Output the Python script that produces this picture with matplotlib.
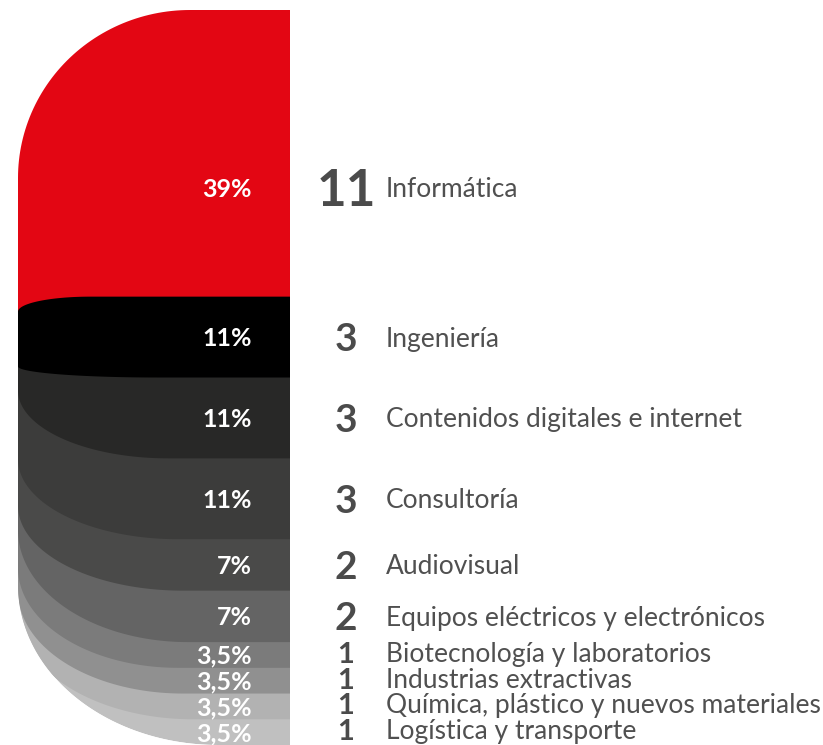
import numpy as np
import matplotlib.pyplot as plt
from matplotlib.path import Path
from matplotlib.patches import PathPatch

plt.rcParams['font.family'] = ['Lato', 'DejaVu Sans']

# ── Data ─────────────────────────────────────────────────────────────────────

sectors = [
    "Informática",
    "Ingeniería",
    "Contenidos digitales e internet",
    "Consultoría",
    "Audiovisual",
    "Equipos eléctricos y electrónicos",
    "Biotecnología y laboratorios",
    "Industrias extractivas",
    "Química, plástico y nuevos materiales",
    "Logística y transporte",
]
counts = [11, 3, 3, 3, 2, 2, 1, 1, 1, 1]
shares = [39, 11, 11, 11, 7, 7, 3.5, 3.5, 3.5, 3.5]
share_labels = ["39%", "11%", "11%", "11%", "7%", "7%", "3,5%", "3,5%", "3,5%", "3,5%"]

# ── Style ────────────────────────────────────────────────────────────────────

colors = ["#e30613", "#000000", "#282827", "#3c3c3b", "#4a4a49",
          "#646464", "#7b7b7b", "#909090", "#b2b2b2", "#c0c0c0"]
# bottom-left corner (rx, ry) in pixels for layers 1..9
bottom_corners = [(139, 11), (150, 68), (160, 80), (165, 85), (170, 112),
                  (160, 100), (165, 102), (175, 108), (200, 160)]
number_sizes = [37, 28, 28, 28, 28, 28, 21, 21, 21, 21]
LABEL_PT = 19

W, H = 823, 745
TOP_PX = 10
PX_PER_UNIT = (H - TOP_PX) / 100.0   # y axis runs 0..100 (share %)
X0, X1 = 18, 290
TOP_CORNER = (172, 168)


def band_path(x0, x1, y0, y1, top=(0, 0), bottom=(0, 0), n=60):
    """Rectangle with elliptical top-left / bottom-left corners (radii in px)."""
    trx, try_ = top[0], top[1] / PX_PER_UNIT
    brx, bry = bottom[0], bottom[1] / PX_PER_UNIT
    verts = [(x1, y0)]
    a = np.linspace(0, np.pi / 2, n)
    if trx > 0:
        cx, cy = x0 + trx, y0 + try_
        verts += list(zip(cx - trx * np.sin(a), cy - try_ * np.cos(a)))
    else:
        verts.append((x0, y0))
    if brx > 0:
        cx, cy = x0 + brx, y1 - bry
        verts += list(zip(cx - brx * np.cos(a), cy + bry * np.sin(a)))
    else:
        verts.append((x0, y1))
    verts.append((x1, y1))
    verts.append((x1, y0))
    codes = [Path.MOVETO] + [Path.LINETO] * (len(verts) - 2) + [Path.CLOSEPOLY]
    return Path(verts, codes)


def pt_to_units(pt):
    return pt * 100 / 72 / PX_PER_UNIT


def cap_offset(pt):
    """Half the cap height of Lato at size pt, in y data units."""
    return 0.7165 * pt_to_units(pt) / 2


fig = plt.figure(figsize=(W / 100, H / 100), dpi=100)
ax = fig.add_axes([0, 0, 1, (H - TOP_PX) / H])
ax.set_xlim(0, W)
ax.set_ylim(100, 0)
ax.axis("off")

edges = np.concatenate([[0], np.cumsum(shares)])
black_mid = (edges[1] + edges[2]) / 2

# outer silhouette used only as a clip
outline = band_path(X0, X1, 0, 100, top=TOP_CORNER, bottom=bottom_corners[-1])

# red layer: top of the silhouette down to the middle of the black band
red = PathPatch(band_path(X0, X1, 0, black_mid, top=TOP_CORNER),
                facecolor=colors[0], edgecolor="none", zorder=1)
ax.add_patch(red)

# grey layers, lowest first so upper ones overlap
for k in range(len(shares) - 1, 1, -1):
    p = PathPatch(band_path(X0, X1, black_mid, edges[k + 1], bottom=bottom_corners[k - 1]),
                  facecolor=colors[k], edgecolor="none", zorder=2 + (10 - k))
    ax.add_patch(p)
    p.set_clip_path(outline, ax.transData)

black = PathPatch(band_path(X0, X1, edges[1], edges[2], top=(72, 15), bottom=bottom_corners[0]),
                  facecolor=colors[1], edgecolor="none", zorder=20)
ax.add_patch(black)
black.set_clip_path(outline, ax.transData)

# band centres
centres = (edges[:-1] + edges[1:]) / 2
centres[0] = edges[0] + 0.62 * shares[0]

# the small bottom rows get nudged up together so the last one's descenders stay inside
last_base = centres[-1] + cap_offset(LABEL_PT)
lift = max(0.0, last_base - (100 - 0.22 * pt_to_units(LABEL_PT)))
text_y = centres.copy()
text_y[6:] -= lift

for k in range(len(shares)):
    ax.text(252, centres[k] + cap_offset(18), share_labels[k], ha="right", va="baseline",
            color="white", fontsize=18, fontweight="bold", zorder=30)
    ax.text(346, text_y[k] + cap_offset(number_sizes[k]), str(counts[k]), ha="center",
            va="baseline", color="#4b4b4b", fontsize=number_sizes[k], fontweight="bold",
            zorder=30)
    ax.text(386, text_y[k] + cap_offset(LABEL_PT), sectors[k], ha="left", va="baseline",
            color="#505050", fontsize=LABEL_PT, zorder=30)

fig.savefig("out.png", dpi=100)
